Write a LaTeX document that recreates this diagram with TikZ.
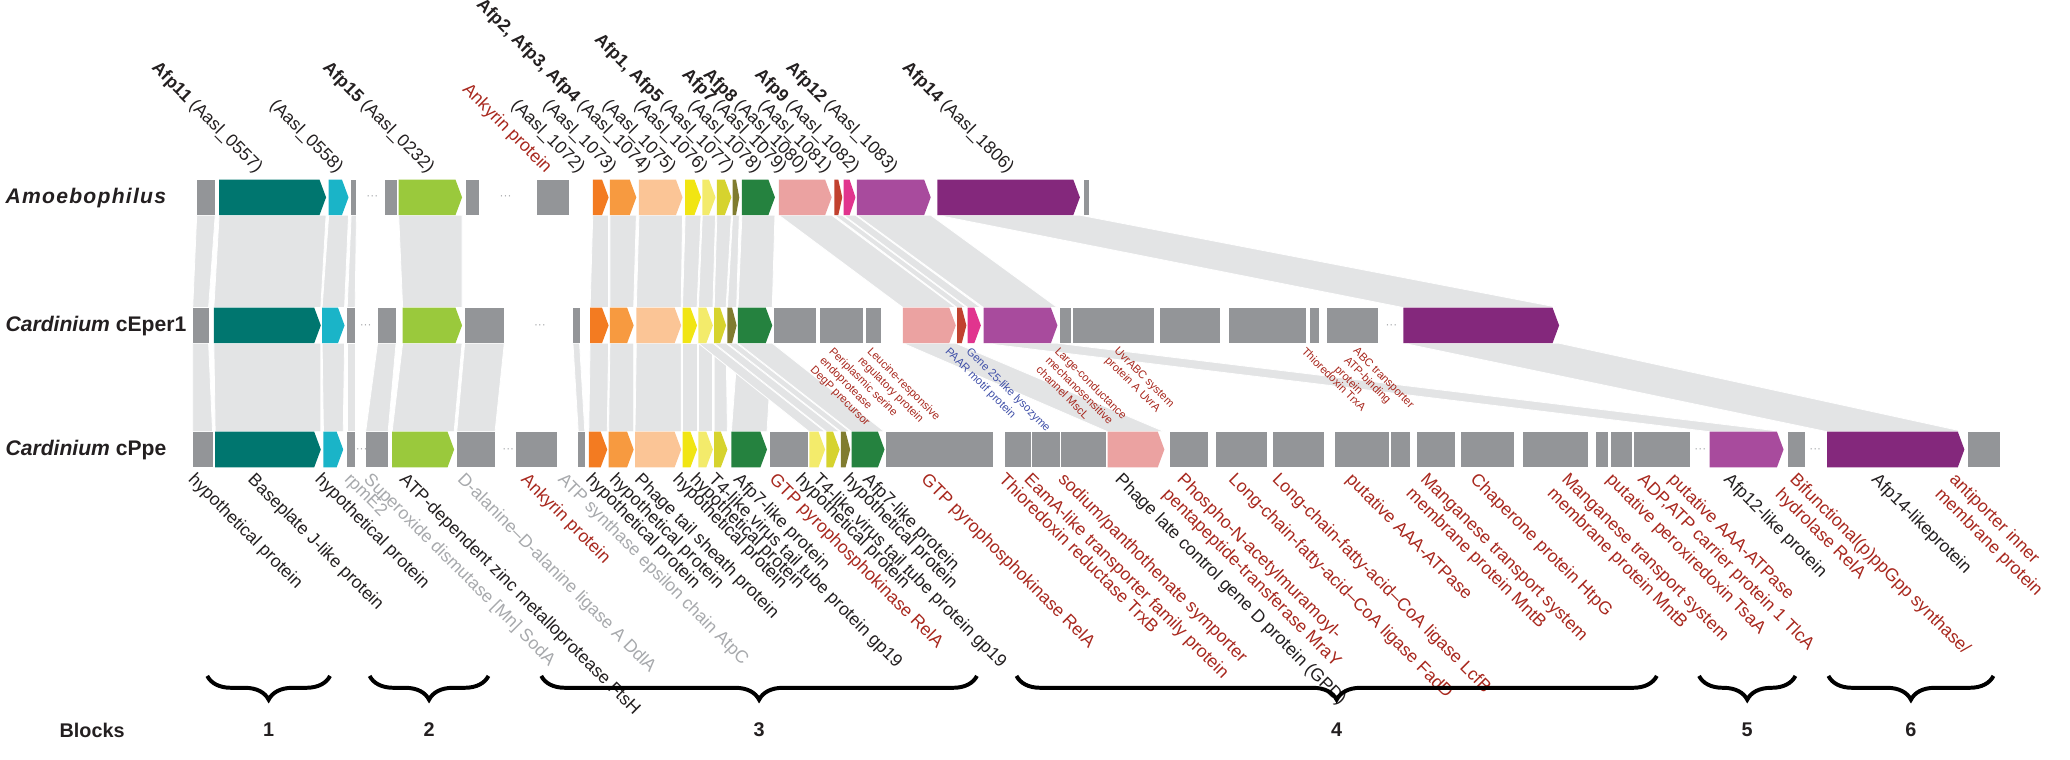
\documentclass[tikz,border=0pt]{standalone}
\usepackage{fontspec}
\setmainfont{Liberation Sans}
\usetikzlibrary{decorations.pathreplacing}

\pgfdeclarelayer{bg}
\pgfsetlayers{bg,main}

\definecolor{genegray}{HTML}{939598}
\definecolor{bandgray}{HTML}{E3E4E5}
\definecolor{cteal}{HTML}{00766F}
\definecolor{ccyan}{HTML}{1AB4C8}
\definecolor{clime}{HTML}{9AC93C}
\definecolor{corange}{HTML}{F37B21}
\definecolor{corangeb}{HTML}{F79A40}
\definecolor{cpeach}{HTML}{FBC596}
\definecolor{cyellow}{HTML}{F1E513}
\definecolor{cyellowb}{HTML}{F3EB6B}
\definecolor{cyellowc}{HTML}{D6D32E}
\definecolor{colive}{HTML}{807C2F}
\definecolor{cgreen}{HTML}{25823F}
\definecolor{cpink}{HTML}{EBA2A1}
\definecolor{cred}{HTML}{C1412F}
\definecolor{cmagenta}{HTML}{E1348E}
\definecolor{cpurple}{HTML}{A84B9D}
\definecolor{cplum}{HTML}{84287C}
\definecolor{labred}{HTML}{A8281E}
\definecolor{labgray}{HTML}{A7A9AC}
\definecolor{labblue}{HTML}{4050A8}
\definecolor{labblack}{HTML}{231F20}

% gray gene: name, left, right, top
\newcommand{\gbox}[4]{%
  \fill[genegray] (#2,#4) rectangle (#3,#4+27);
  \coordinate (#1-tl) at (#2,#4);
  \coordinate (#1-tr) at (#3,#4);
  \coordinate (#1-bl) at (#2,#4+27);
  \coordinate (#1-br) at (#3,#4+27);}
% coloured gene arrow: name, left, right, top, colour
\newcommand{\garrow}[5]{%
  \pgfmathsetmacro{\tipw}{min(5,0.5*(#3-#2))}%
  \fill[#5] (#2,#4) -- (#3-\tipw,#4) -- (#3,#4+13.5) -- (#3-\tipw,#4+27) -- (#2,#4+27) -- cycle;
  \coordinate (#1-tl) at (#2,#4);
  \coordinate (#1-tr) at (#3,#4);
  \coordinate (#1-bl) at (#2,#4+27);
  \coordinate (#1-br) at (#3,#4+27);}
% synteny band between a gene and the gene below it
\newcommand{\band}[2]{%
  \fill[bandgray, draw=white, line width=0.6pt] (#1-bl) -- (#1-br) -- (#2-tr) -- (#2-tl) -- cycle;}

\begin{document}
\begin{tikzpicture}[
    x=1pt, y=-1pt,
    rowlab/.style={anchor=west, inner sep=0pt, text=labblack, font=\fontsize{16}{18}\selectfont\bfseries},
    toplab/.style={rotate=-45, anchor=south east, inner sep=0pt, text=labblack, font=\fontsize{13.4}{15}\selectfont},
    genelab/.style={rotate=-45, anchor=north west, inner sep=0pt, align=left, font=\fontsize{13.4}{15.5}\selectfont},
    midlab/.style={rotate=-45, anchor=north west, inner sep=0pt, align=left, font=\fontsize{8.5}{10}\selectfont},
    gapdots/.style={inner sep=0pt, text=labgray, font=\fontsize{9}{9}\selectfont},
    blocklab/.style={inner sep=0pt, text=labblack, font=\fontsize{15}{17}\selectfont\bfseries},
    blockbrace/.style={decorate, decoration={brace, mirror, amplitude=18pt}, line width=3pt}
]
\useasboundingbox (0,0) rectangle (1568,575);

% Amoebophilus
\node[rowlab] (amoe) at (4,150) {\itshape\addfontfeatures{LetterSpace=6}Amoebophilus};
\foreach \n/\a/\b in {a1/149/163, a2/266/270, a3/292/301, a4/353/363, a5/407/431, a6/821/825}
  {\gbox{\n}{\a}{\b}{136}}
\foreach \n/\a/\b/\c in {at/166/247/cteal, ac/249/264/ccyan, ag/302/350/clime,
    ao1/449/461/corange, ao2/462/482/corangeb, ap/484/517/cpeach, ay1/519/531/cyellow,
    ay2/532/542/cyellowb, ay3/543/554/cyellowc, aol/555/560/colive, adg/562/587/cgreen,
    apk/590/630/cpink, ard/632/638/cred, amg/639/648/cmagenta, apm/649/705/cpurple,
    adp/710/818/cplum}
  {\garrow{\n}{\a}{\b}{136}{\c}}

% Cardinium cEper1
\node[rowlab] (ceper) at (4,247) {\textit{Cardinium} cEper1};
\foreach \n/\a/\b in {e1/146/158, e2/263/269, e3/286/300, e4/352/382, e5/434/439,
    e6/586/618, e7/621/654, e8/656/667, e9/803/811, e10/813/874, e11/879/924,
    e12/931/989, e13/992/999, e14/1005/1044}
  {\gbox{\n}{\a}{\b}{233}}
\foreach \n/\a/\b/\c in {et/162/243/cteal, ec/244/261/ccyan, eg/305/350/clime,
    eo1/447/461/corange, eo2/462/480/corangeb, ep/482/516/cpeach, ey1/517/528/cyellow,
    ey2/529/540/cyellowb, ey3/541/550/cyellowc, eol/551/558/colive, edg/559/585/cgreen,
    epk/684/724/cpink, erd/725/732/cred, emg/733/743/cmagenta, epm/745/801/cpurple,
    edp/1063/1181/cplum}
  {\garrow{\n}{\a}{\b}{233}{\c}}

% Cardinium cPpe
\node[rowlab] (cppe) at (4,341) {\textit{Cardinium} cPpe};
\foreach \n/\a/\b in {p1/146/161, p2/263/269, p3/277/294, p4/346/375, p5/391/422,
    p6/438/443, p7/583/612, p8/671/752, p9/761/781, p10/782/803, p11/804/838,
    p12/886/915, p13/921/960, p14/964/1003, p15/1011/1052, p16/1054/1068,
    p17/1073/1102, p18/1107/1147, p19/1154/1203, p20/1209/1218, p21/1220/1236,
    p22/1238/1280, p23/1354/1367, p24/1491/1515}
  {\gbox{\n}{\a}{\b}{327}}
\foreach \n/\a/\b/\c in {pt/163/243/cteal, pc/245/260/ccyan, pg/297/344/clime,
    po1/446/460/corange, po2/461/480/corangeb, pp/481/516/cpeach, py1/517/528/cyellow,
    py2/529/540/cyellowb, py3/541/551/cyellowc, pdg/554/581/cgreen,
    py5/613/625/cyellowb, py6/626/636/cyellowc, pol/637/644/colive, pdg2/645/670/cgreen,
    ppk/839/882/cpink, ppm/1295/1351/cpurple, pdp/1384/1488/cplum}
  {\garrow{\n}{\a}{\b}{327}{\c}}

% gaps in the contigs
\foreach \x/\y [count=\i] in {282/150, 383/150, 277/247, 409/247, 1054/247,
    274/341, 385/341, 1288/341, 1375/341}
  {\node[gapdots] (dot\i) at (\x,\y) {\textperiodcentered\textperiodcentered\textperiodcentered};}

% synteny bands
\begin{pgfonlayer}{bg}
\foreach \u/\v in {a1/e1, at/et, ac/ec, a2/e2, ag/eg, ao1/eo1, ao2/eo2, ap/ep, ay1/ey1,
    ay2/ey2, ay3/ey3, aol/eol, adg/edg, apk/epk, ard/erd, amg/emg, apm/epm, adp/edp}
  {\band{\u}{\v}}
\foreach \u/\v in {e1/p1, et/pt, ec/pc, e2/p2, e3/p3, eg/pg, e4/p4, e5/p6, eo1/po1,
    eo2/po2, ep/pp, ey1/py1, ey2/py2, ey3/py3, edg/pdg, ey2/py5, ey3/py6, eol/pol,
    edg/pdg2, epk/ppk, epm/ppm, edp/pdp}
  {\band{\u}{\v}}
\end{pgfonlayer}

% Amoebophilus loci
\foreach \x/\t [count=\i] in {192/{\textbf{Afp11} (Aasl\_0557)}, 253/{(Aasl\_0558)},
    322/{\textbf{Afp15} (Aasl\_0232)}, 436/{(Aasl\_1072)}, 460/{(Aasl\_1073)},
    486/{\textbf{Afp2, Afp3, Afp4} (Aasl\_1074)}, 505/{(Aasl\_1075)}, 529/{(Aasl\_1076)},
    549/{\textbf{Afp1, Afp5} (Aasl\_1077)}, 570/{(Aasl\_1078)},
    589/{\textbf{Afp7} (Aasl\_1079)}, 605/{\textbf{Afp8} (Aasl\_1080)},
    623/{(Aasl\_1081)}, 644/{\textbf{Afp9} (Aasl\_1082)},
    673/{\textbf{Afp12} (Aasl\_1083)}, 761/{\textbf{Afp14} (Aasl\_1806)}}
  {\node[toplab] (top\i) at (\x,134) {\t};}
\node[toplab, text=labred] (topank) at (411,134) {Ankyrin protein};

% cEper1 annotations
\foreach \x/\c/\t [count=\i] in {632/labred/{Periplasmic serine\\endoprotease\\DegP precursor},
    661/labred/{Leucine-responsive\\regulatory protein}, 720/labblue/{PAAR motif protein},
    736/labblue/{Gene 25-like lysozyme}, 803/labred/{Large-conductance\\mechanosensitive\\channel MscL},
    848/labred/{UvrABC system\\protein A UvrA}, 990/labred/{Thioredoxin TrxA},
    1029/labred/{ABC transporter\\ATP-binding\\protein}}
  {\node[midlab, text=\c] (mid\i) at (\x,262) {\t};}

% cPpe annotations
\foreach \x/\c/\t [count=\i] in {149/labblack/{hypothetical protein},
    194/labblack/{Baseplate J-like protein}, 245/labblack/{hypothetical protein},
    267/labgray/{rpmE2}, 282/labgray/{Superoxide dismutase [Mn] SodA},
    309/labblack/{ATP-dependent zinc metalloprotease FtsH},
    353/labgray/{D-alanine--D-alanine ligase A DdlA}, 401/labred/{Ankyrin protein},
    429/labgray/{ATP synthase epsilon chain AtpC}, 450/labblack/{hypothetical protein},
    468/labblack/{hypothetical protein}, 487/labblack/{Phage tail sheath protein},
    516/labblack/{hypothetical protein}, 529/labblack/{hypothetical protein},
    543/labblack/{T4-like virus tail tube protein gp19}, 562/labblack/{Afp7-like protein},
    589/labred/{GTP pyrophosphokinase RelA}, 609/labblack/{hypothetical protein},
    622/labblack/{T4-like virus tail tube protein gp19}, 645/labblack/{hypothetical protein},
    660/labblack/{Afp7-like protein}, 704/labred/{GTP pyrophosphokinase RelA},
    763/labred/{Thioredoxin reductase TrxB}, 782/labred/{EamA-like transporter family protein},
    808/labred/{sodium/panthothenate symporter},
    851/labblack/{Phage late control gene D protein (GPD)},
    898/labred/{Phospho-N-acetylmuramoyl-\\pentapeptide-transferase MraY},
    937/labred/{Long-chain-fatty-acid--CoA ligase FadD},
    970/labred/{Long-chain-fatty-acid--CoA ligase LcfB}, 1026/labred/{putative AAA-ATPase},
    1082/labred/{Manganese transport system\\membrane protein MntB},
    1120/labred/{Chaperone protein HtpG},
    1189/labred/{Manganese transport system\\membrane protein MntB},
    1223/labred/{putative peroxiredoxin TsaA}, 1247/labred/{ADP,ATP carrier protein 1 TlcA},
    1270/labred/{putative AAA-ATPase}, 1312/labblack/{Afp12-like protein},
    1362/labred/{Bifunctional(p)ppGpp synthase/\\hydrolase RelA},
    1424/labblack/{Afp14-likeprotein}, 1483/labred/{antiporter inner\\membrane protein}}
  {\node[genelab, text=\c] (lab\i) at (\x,357) {\t};}

% Blocks
\node[blocklab, anchor=west] (blocks) at (45,553) {Blocks};
\foreach \a/\b [count=\i] in {157/250, 280/370, 410/740, 770/1255, 1287/1360, 1385/1510}
  {\draw[blockbrace] (\a,512) -- (\b,512);
   \node[blocklab] (blk\i) at ({(\a+\b)/2},553) {\i};}

\end{tikzpicture}
\end{document}
